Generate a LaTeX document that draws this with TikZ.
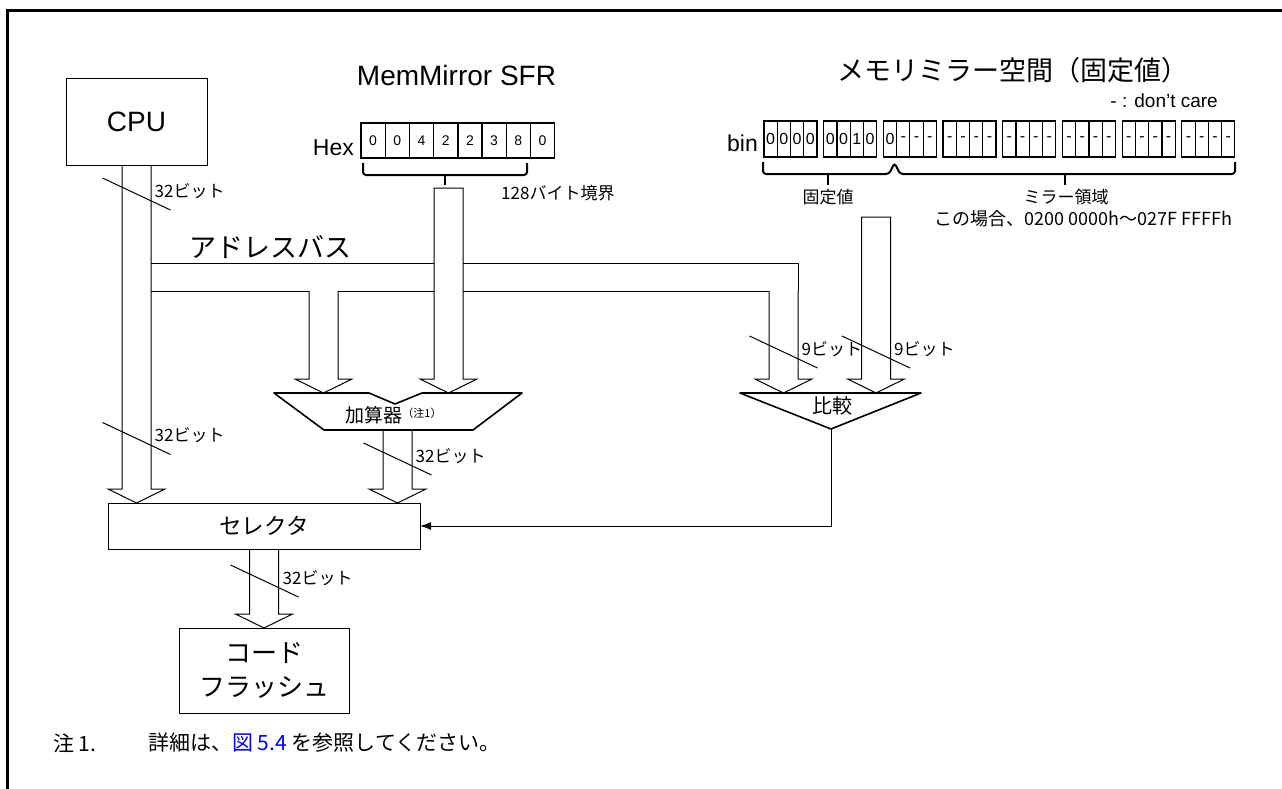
\documentclass[tikz,border=0pt]{standalone}
\usepackage{fontspec}
\setmainfont{Liberation Sans}
\newfontfamily\jp{Noto Sans CJK JP}
\usepackage{tikz}
\usetikzlibrary{calc}
\usetikzlibrary{arrows.meta}
\usetikzlibrary{positioning}
\definecolor{linkblue}{RGB}{0, 0, 255}

\newcommand{\fs}[1]{\fontsize{#1}{#1}\selectfont}
% wide bus arrow: [closing] start tip
\newcommand{\widebus}[3][]{%
  \draw[bus] ($(#2)+(-14.5,0)$) -- ($(#3)+(-14.5,-14)$) -- ($(#3)+(-28.5,-14)$) -- (#3)
     -- ($(#3)+(28.5,-14)$) -- ($(#3)+(14.5,-14)$) -- ($(#2)+(14.5,0)$) #1;}
% bus width mark: centre, label, name
\newcommand{\bitwidth}[3]{%
  \draw[slash] ($(#1)+(-34,-16)$) -- ($(#1)+(34,16)$);
  \node[bitlbl, anchor=west] (#3) at ($(#1)+(18,-3)$) {#2};}

\begin{document}
\begin{tikzpicture}[x=1pt, y=-1pt,
    box/.style={draw, line width=1pt, inner sep=0pt, outer sep=0pt},
    hexcell/.style={draw, line width=1.4pt, minimum width=24.2pt, minimum height=35pt, inner sep=0pt, font=\fs{14}},
    bincell/.style={draw, line width=1.2pt, minimum width=13.25pt, minimum height=36pt, inner sep=0pt, font=\fs{16}},
    bus/.style={line width=1pt},
    slash/.style={line width=1pt},
    bitlbl/.style={inner sep=0pt, font=\jp\fs{17}},
    brace/.style={line width=2pt, rounded corners=3pt},
    unit/.style={line width=1.6pt, line join=round},
    edge/.style={line width=2.6pt}]
  \useasboundingbox (0,0) rectangle (1282,789);
  \draw[line width=3pt] (1284,11) -- (7.5,11) -- (7.5,791);

  % titles
  \node[font=\fs{28}] (sfrtitle) at (456.5,75) {MemMirror SFR};
  \node[font=\jp\fs{27}] (mirtitle) at (1013,70) {メモリミラー空間（固定値）};

  \node[box, minimum width=141pt, minimum height=86pt, font=\fs{28}] (cpu) at (136.5,122) {CPU};

  % SFR value
  \node[anchor=base east, inner sep=0pt, font=\fs{23}] (hexlbl) at (354,155) {Hex};
  \foreach \d [count=\i from 0] in {0,0,4,2,2,3,8,0}
    \node[hexcell] (hx\i) at (373.1+24.2*\i,140.5) {\d};
  \draw[brace] (363,163) |- (527,175) -- (527,163);
  \draw[brace] (445,175) -- (445,185);
  \node[bitlbl, anchor=west] (bound) at (501,193) {128バイト境界};

  % mirror space
  \node[anchor=base east, inner sep=0pt, font=\fs{23}] (binlbl) at (758,152) {bin};
  \foreach \b [count=\i from 0] in {0,0,0,0, 0,0,1,0, 0,-,-,-, -,-,-,-, -,-,-,-, -,-,-,-, -,-,-,-, -,-,-,-}
    \node[bincell] (bn\i) at ({770.6+59.7*int(\i/4)+13.25*mod(\i,4)},139) {\b};
  \node[anchor=base east, inner sep=0pt, font=\fs{19}] (dc) at (1218,108) {- : don’t care};
  \draw[brace] (763,162) |- (889,174) -- (894.5,163) -- (900,174) -| (1235,162);
  \draw[brace] (828,174) -- (828,185);
  \draw[brace] (1065,174) -- (1065,185);
  \node[font=\jp\fs{17}] (fixlbl) at (828,197) {固定値};
  \node[font=\jp\fs{17}] (mirlbl) at (1066,197) {ミラー領域};
  \node[font=\jp\fs{18}] (rangelbl) at (1083.5,219) {この場合、0200 0000h～027F FFFFh};

  \node[font=\jp\fs{27}] (ablbl) at (270,247) {アドレスバス};

  % adder and comparator
  \draw[unit] (274,393) -- (369,393) -- (395,404) -- (422,393) -- (522,393) -- (473,430) -- (324,430) -- cycle;
  \draw[edge] (274,393) -- (369,393) (422,393) -- (522,393);
  \node[font=\jp\fs{19}] (adder) at (393.5,415) {加算器\raisebox{5pt}{\fs{11}（注1）}};
  \draw[unit] (740,393) -- (921,393) -- (831,429) -- cycle;
  \draw[edge] (740,393) -- (921,393);
  \node[font=\jp\fs{20}] (cmp) at (832,406) {比較};

  \node[box, minimum width=312pt, minimum height=46pt, font=\jp\fs{22.5}] (sel) at (264,526) {セレクタ};
  \node[box, minimum width=170pt, minimum height=85pt, align=center, font=\jp\fontsize{26}{34}\selectfont] (flash) at (264,670.5) {コード\\フラッシュ};

  \coordinate (addin1) at (323.5,393);
  \coordinate (addin2) at (448.5,393);
  \coordinate (addout) at (397.5,430);
  \coordinate (cmpin1) at (783.5,393);
  \coordinate (cmpin2) at (876,393);
  \coordinate (cmpout) at (831,429);
  \coordinate (cputip) at (cpu.south |- sel.north);
  \coordinate (addtip) at (addout |- sel.north);
  \coordinate (abadd) at (323.5,291);
  \coordinate (abcmp) at (783.5,291);
  \coordinate (hextop) at (448.5,188);
  \coordinate (mirtop) at (876,217);

  % buses
  \widebus{cpu.south}{cputip}
  \draw[bus] (151,263) -- (434,263) (463,263) -- (798,263) -- (798,291);
  \draw[bus] (151,291) -- (309,291) (338,291) -- (434,291) (463,291) -- (769,291);
  \widebus{abadd}{addin1}
  \widebus{abcmp}{cmpin1}
  \widebus[-- cycle]{hextop}{addin2}
  \widebus[-- cycle]{mirtop}{cmpin2}
  \widebus{addout}{addtip}
  \widebus{sel.south}{flash.north}
  \draw[line width=1pt, -{Latex[length=11pt, width=8pt]}] (cmpout) |- (sel.east);

  \bitwidth{136.5,194}{32ビット}{w1}
  \bitwidth{136.5,438.5}{32ビット}{w2}
  \bitwidth{397.5,459}{32ビット}{w3}
  \bitwidth{264.5,581}{32ビット}{w4}
  \bitwidth{783.5,352}{9ビット}{w5}
  \bitwidth{876,352}{9ビット}{w6}

  % note
  \node[anchor=west, inner sep=0pt, font=\jp\fs{21}] (notenum) at (53,743) {注 1.};
  \node[anchor=west, inner sep=0pt, font=\jp\fs{21}] (notetxt) at (148,743) {詳細は、\textcolor{linkblue}{図 5.4} を参照してください。};
\end{tikzpicture}
\end{document}
